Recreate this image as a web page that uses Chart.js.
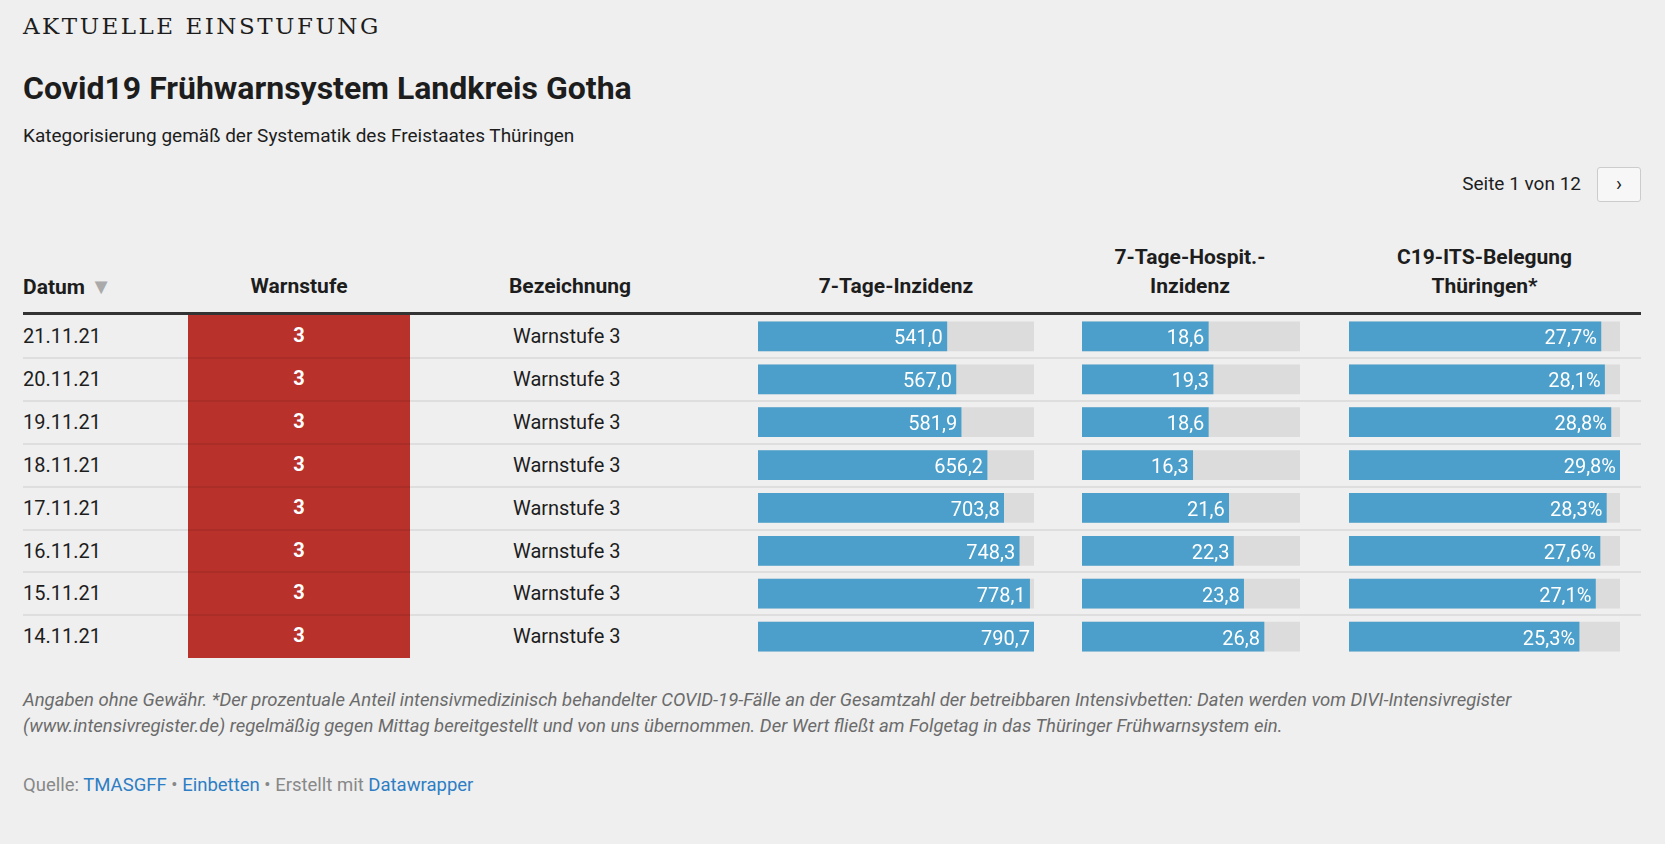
<!DOCTYPE html>
<html>
<head>
<meta charset="utf-8">
<script src="https://cdn.jsdelivr.net/npm/chart.js@4"></script>
<style>
  body { margin: 0; background: #efefef; font-family: Roboto, sans-serif; color: #1d1d1d; }
  #page { position: relative; width: 1665px; height: 844px; overflow: hidden; }
  .abs { position: absolute; white-space: nowrap; }
  .kicker { left: 23px; top: 13px; font-family: "DejaVu Serif", serif; font-size: 23px; letter-spacing: 2.5px; }
  .title { left: 23px; top: 69px; font-size: 32px; font-weight: bold; }
  .sub { left: 23px; top: 124px; font-size: 19px; }
  .pager { right: 84px; top: 172px; font-size: 19px; }
  .btn { left: 1597px; top: 167px; width: 42px; height: 33px; border: 1px solid #ccc; border-radius: 3px; background: #f7f7f7; font-size: 20px; text-align: center; line-height: 32px; }
  .hd { font-size: 21px; font-weight: bold; text-align: center; line-height: 29px; }
  .cell { font-size: 20px; }
  .red { left: 188px; top: 315px; width: 222px; height: 343px; background: #b8312a; }
  .lvl { color: #fff; font-weight: bold; font-size: 20px; text-align: center; width: 222px; left: 188px; }
  .hr { left: 23px; width: 1618px; height: 2px; background: rgba(0,0,0,0.07); }
  .foot { left: 23px; top: 688px; width: 1620px; font-size: 18.5px; font-style: italic; color: #6b6b6b; line-height: 25.5px; white-space: normal; }
  .src { left: 23px; top: 774px; font-size: 18.5px; color: #888; }
  .src a { color: #2d7ec4; text-decoration: none; }
  canvas { position: absolute; }
</style>
</head>
<body>
<div id="page">
  <div class="abs kicker">AKTUELLE EINSTUFUNG</div>
  <div class="abs title">Covid19 Frühwarnsystem Landkreis Gotha</div>
  <div class="abs sub">Kategorisierung gemäß der Systematik des Freistaates Thüringen</div>
  <div class="abs pager">Seite 1 von 12</div>
  <div class="abs btn">&#x203A;</div>

  <div class="abs hd" style="left:23px;top:272px;text-align:left">Datum <span style="color:#aaa;font-size:22px">&#x25BC;</span></div>
  <div class="abs hd" style="left:188px;width:222px;top:272px">Warnstufe</div>
  <div class="abs hd" style="left:470px;width:200px;top:272px">Bezeichnung</div>
  <div class="abs hd" style="left:758px;width:276px;top:272px">7-Tage-Inzidenz</div>
  <div class="abs hd" style="left:1060px;width:260px;top:243px">7-Tage-Hospit.-<br>Inzidenz</div>
  <div class="abs hd" style="left:1349px;width:271px;top:243px">C19-ITS-Belegung<br>Thüringen*</div>
  <div class="abs" style="left:23px;top:312px;width:1618px;height:3px;background:#333"></div>

  <div class="abs red"></div>
  <div id="rows"></div>

  <canvas id="c1" width="276" height="343" style="left:758px;top:315px"></canvas>
  <canvas id="c2" width="218" height="343" style="left:1082px;top:315px"></canvas>
  <canvas id="c3" width="271" height="343" style="left:1349px;top:315px"></canvas>

  <div class="abs foot">Angaben ohne Gewähr. *Der prozentuale Anteil intensivmedizinisch behandelter COVID-19-Fälle an der Gesamtzahl der betreibbaren Intensivbetten: Daten werden vom DIVI-Intensivregister (www.intensivregister.de) regelmäßig gegen Mittag bereitgestellt und von uns übernommen. Der Wert fließt am Folgetag in das Thüringer Frühwarnsystem ein.</div>
  <div class="abs src">Quelle: <a>TMASGFF</a> • <a>Einbetten</a> • Erstellt mit <a>Datawrapper</a></div>
</div>
<script>
const dates = ['21.11.21', '20.11.21', '19.11.21', '18.11.21', '17.11.21', '16.11.21', '15.11.21', '14.11.21'];
const levels = [3, 3, 3, 3, 3, 3, 3, 3];
const labels = ['Warnstufe 3', 'Warnstufe 3', 'Warnstufe 3', 'Warnstufe 3', 'Warnstufe 3', 'Warnstufe 3', 'Warnstufe 3', 'Warnstufe 3'];
const incidence = [541.0, 567.0, 581.9, 656.2, 703.8, 748.3, 778.1, 790.7];
const hospital = [18.6, 19.3, 18.6, 16.3, 21.6, 22.3, 23.8, 26.8];
const icu = [27.7, 28.1, 28.8, 29.8, 28.3, 27.6, 27.1, 25.3];

const rowTop = 315, rowH = 42.9;
const rows = document.getElementById('rows');
dates.forEach((d, i) => {
  const y = rowTop + i * rowH;
  rows.insertAdjacentHTML('beforeend',
    `<div class="abs cell" style="left:23px;top:${y + 9}px">${d}</div>` +
    `<div class="abs lvl" style="top:${y + 8}px">${levels[i]}</div>` +
    `<div class="abs cell" style="left:513px;top:${y + 9}px">${labels[i]}</div>` +
    (i < dates.length - 1 ? `<div class="abs hr" style="top:${y + rowH - 1}px"></div>` : ''));
});

const fmt = (v, suffix) => v.toFixed(1).replace('.', ',') + suffix;

const valueLabels = {
  id: 'valueLabels',
  afterDatasetsDraw(chart, args, opts) {
    const ctx = chart.ctx;
    const meta = chart.getDatasetMeta(1);
    ctx.save();
    ctx.fillStyle = '#fff';
    ctx.font = '20px Roboto';
    ctx.textAlign = 'right';
    ctx.textBaseline = 'middle';
    meta.data.forEach((bar, i) => {
      ctx.fillText(fmt(chart.data.datasets[1].data[i], opts.suffix), bar.x - 4, bar.y + 3);
    });
    ctx.restore();
  }
};

function barChart(id, values, max, suffix) {
  new Chart(document.getElementById(id), {
    type: 'bar',
    data: {
      labels: dates,
      datasets: [
        { data: values.map(() => max), backgroundColor: '#dcdcdc', order: 2 },
        { data: values, backgroundColor: '#4b9fca', order: 1 },
      ],
    },
    options: {
      indexAxis: 'y',
      responsive: false,
      animation: false,
      grouped: false,
      barThickness: 29,
      layout: { padding: 0 },
      scales: {
        x: { display: false, min: 0, max: max },
        y: { display: false },
      },
      plugins: {
        legend: { display: false },
        tooltip: { enabled: false },
        valueLabels: { suffix: suffix },
      },
    },
    plugins: [valueLabels],
  });
}

barChart('c1', incidence, 790.7, '');
barChart('c2', hospital, 32.1, '');
barChart('c3', icu, 29.8, '%');
</script>
</body>
</html>
